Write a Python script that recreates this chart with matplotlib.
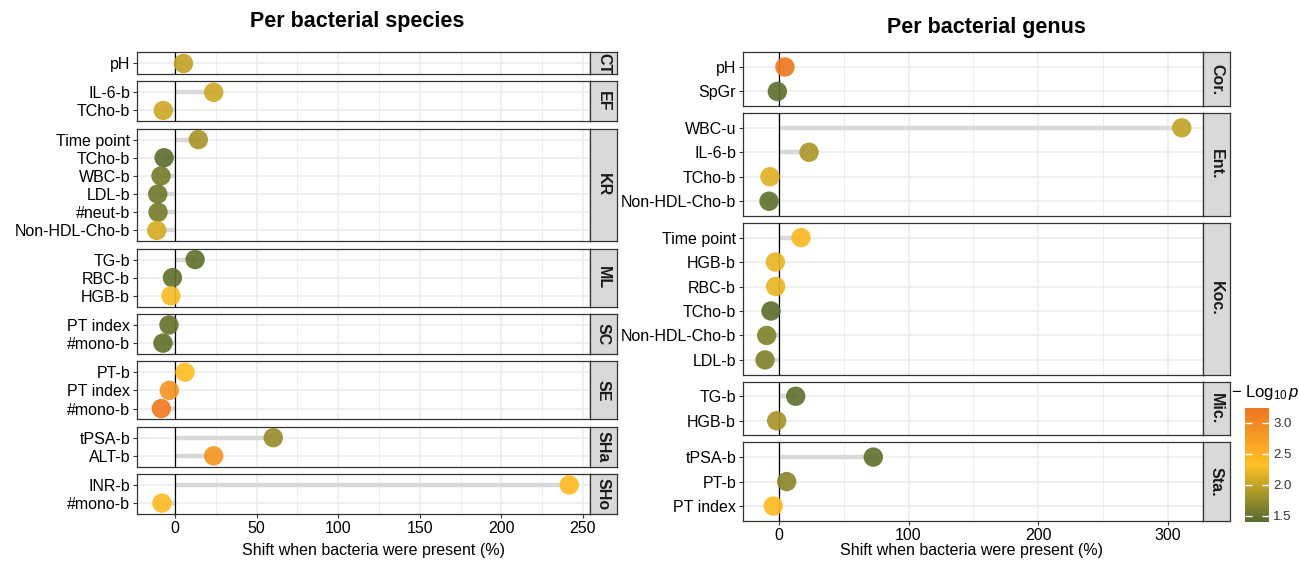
import numpy as np
import matplotlib
matplotlib.use("Agg")
import matplotlib.pyplot as plt
from matplotlib.colors import LinearSegmentedColormap, Normalize
from matplotlib.cm import ScalarMappable

plt.rcParams["font.family"] = ["Liberation Sans", "DejaVu Sans"]
plt.rcParams["mathtext.fontset"] = "custom"
plt.rcParams["mathtext.rm"] = "Liberation Sans"
plt.rcParams["mathtext.it"] = "Liberation Sans:italic"

# ---- data: per bacterial species ----
species_facets = ["CT", "EF", "KR", "ML", "SC", "SE", "SHa", "SHo"]
species_labels = [
    ["pH"],
    ["IL-6-b", "TCho-b"],
    ["Time point", "TCho-b", "WBC-b", "LDL-b", "#neut-b", "Non-HDL-Cho-b"],
    ["TG-b", "RBC-b", "HGB-b"],
    ["PT index", "#mono-b"],
    ["PT-b", "PT index", "#mono-b"],
    ["tPSA-b", "ALT-b"],
    ["INR-b", "#mono-b"],
]
species_shift = [
    [4.7],
    [23.7, -7.2],
    [14.3, -6.7, -8.6, -10.6, -10.4, -11.2],
    [12.3, -1.6, -2.5],
    [-3.7, -7.4],
    [6.1, -3.5, -8.4],
    [60.2, 23.7],
    [241.6, -8.0],
]
species_logp = [
    [2.0],
    [2.05, 2.05],
    [1.86, 1.45, 1.6, 1.55, 1.6, 2.1],
    [1.47, 1.47, 2.27],
    [1.5, 1.47],
    [2.35, 2.87, 3.18],
    [1.77, 2.85],
    [2.4, 2.4],
]

# ---- data: per bacterial genus ----
genus_facets = ["Cor.", "Ent.", "Koc.", "Mic.", "Sta."]
genus_labels = [
    ["pH", "SpGr"],
    ["WBC-u", "IL-6-b", "TCho-b", "Non-HDL-Cho-b"],
    ["Time point", "HGB-b", "RBC-b", "TCho-b", "Non-HDL-Cho-b", "LDL-b"],
    ["TG-b", "HGB-b"],
    ["tPSA-b", "PT-b", "PT index"],
]
genus_shift = [
    [4.6, -1.3],
    [311.0, 23.2, -7.0, -7.7],
    [17.0, -2.8, -2.6, -6.2, -9.5, -10.8],
    [12.9, -1.8],
    [72.8, 5.9, -4.4],
]
genus_logp = [
    [3.2, 1.47],
    [2.0, 1.87, 2.15, 1.47],
    [2.42, 2.2, 2.2, 1.44, 1.65, 1.65],
    [1.47, 1.85],
    [1.47, 1.7, 2.4],
]

LOGP_RANGE = (1.40, 3.24)

cmap = LinearSegmentedColormap.from_list("olive_gold_orange", ["#556B2F", "#FFC125", "#EE7621"])
norm = Normalize(*LOGP_RANGE)

W, H = 1299, 562
fig = plt.figure(figsize=(W / 100, H / 100), dpi=100)


def px_box(x0, y0, x1, y1):
    return [x0 / W, 1 - y1 / H, (x1 - x0) / W, (y1 - y0) / H]


def draw_panel(facets, labels, shifts, logps, x0, x1, top, bottom, gap, xlim, xticks, minor):
    rows = [len(lab) + 0.2 for lab in labels]
    unit = (bottom - top - gap * (len(rows) - 1)) / sum(rows)
    y = top
    for i, fac in enumerate(facets):
        h = rows[i] * unit
        ax = fig.add_axes(px_box(x0, y, x1, y + h))
        n = len(labels[i])
        pos = np.arange(n)
        ax.hlines(pos, 0, shifts[i], color="#d9d9d9", lw=3.2, zorder=2)
        ax.axvline(0, color="black", lw=0.9, zorder=3)
        ax.scatter(shifts[i], pos, c=logps[i], cmap=cmap, norm=norm, s=195,
                   alpha=0.92, linewidths=0, zorder=4)
        ax.set_xlim(xlim)
        ax.set_ylim(n - 0.4, -0.6)
        ax.set_yticks(pos)
        ax.set_yticklabels(labels[i], fontsize=11.5)
        ax.set_xticks(xticks)
        ax.set_xticks(minor, minor=True)
        ax.set_axisbelow(True)
        ax.grid(True, which="major", color="#ebebeb", lw=1.1)
        ax.grid(True, which="minor", axis="x", color="#ebebeb", lw=0.6)
        for sp in ax.spines.values():
            sp.set_color("#333333")
            sp.set_linewidth(0.9)
        ax.tick_params(axis="both", which="major", length=3, color="#333333", width=0.8, pad=2)
        ax.tick_params(axis="x", which="minor", length=0)
        if i < len(facets) - 1:
            ax.tick_params(axis="x", labelbottom=False, length=0)
        else:
            ax.tick_params(axis="x", labelsize=11.5)

        sax = fig.add_axes(px_box(x1, y, x1 + 27, y + h))
        sax.set_facecolor("#d9d9d9")
        sax.set_xticks([])
        sax.set_yticks([])
        for sp in sax.spines.values():
            sp.set_color("#333333")
            sp.set_linewidth(0.9)
        sax.text(0.5, 0.5, fac, rotation=-90, ha="center", va="center",
                 fontweight="bold", fontsize=11.5, color="#1a1a1a", transform=sax.transAxes)
        y += h + gap


draw_panel(species_facets, species_labels, species_shift, species_logp,
           137, 590, 52.3, 514, 7.3, (-23.3, 254.3),
           [0, 50, 100, 150, 200, 250], [25, 75, 125, 175, 225])
draw_panel(genus_facets, genus_labels, genus_shift, genus_logp,
           743, 1203, 52.3, 520.7, 7.0, (-27.8, 327.4),
           [0, 100, 200, 300], [50, 150, 250])

fig.text(357 / W, 1 - 22 / H, "Per bacterial species", ha="center", va="center",
         fontsize=15.5, fontweight="bold")
fig.text(986 / W, 1 - 28 / H, "Per bacterial genus", ha="center", va="center",
         fontsize=15.5, fontweight="bold")
fig.text(373 / W, 1 - 551 / H, "Shift when bacteria were present (%)", ha="center",
         va="center", fontsize=11.5)
fig.text(971 / W, 1 - 551 / H, "Shift when bacteria were present (%)", ha="center",
         va="center", fontsize=11.5)

# colour bar
cax = fig.add_axes(px_box(1245, 408, 1269, 522))
cb = fig.colorbar(ScalarMappable(norm=norm, cmap=cmap), cax=cax)
cb.outline.set_visible(False)
cb.set_ticks([1.5, 2.0, 2.5, 3.0])
cb.set_ticklabels(["1.5", "2.0", "2.5", "3.0"])
cax.tick_params(which="major", direction="in", color="white", length=5, width=1,
                left=True, right=True, labelleft=False, labelright=True,
                labelsize=9.5, labelcolor="#333333", pad=3)
fig.text(1231 / W, 1 - 393 / H, r"$-\ \mathrm{Log}_{10}\,\mathit{p}$", ha="left",
         va="center", fontsize=12)

fig.savefig("out.png", dpi=100)
